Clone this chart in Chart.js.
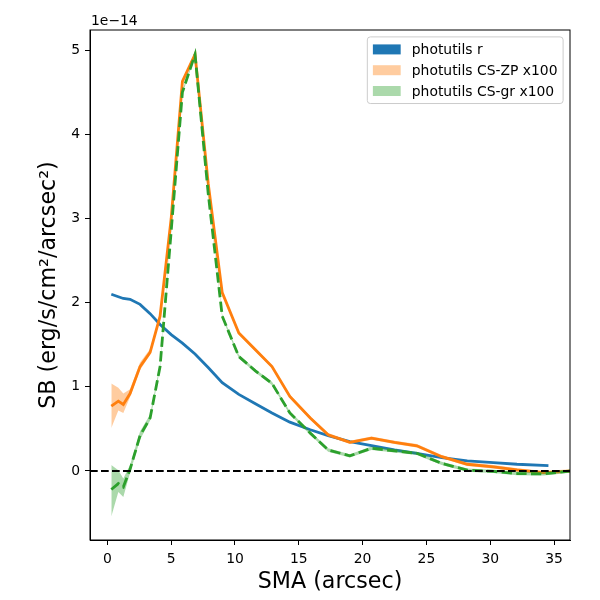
<!DOCTYPE html>
<html>
<head>
<meta charset="utf-8">
<script src="https://cdn.jsdelivr.net/npm/chart.js@4.4.1/dist/chart.umd.min.js"></script>
<style>
body { margin:0; background:#fff; }
</style>
</head>
<body>
<canvas id="myChart" width="600" height="600"></canvas>
<script>
// values are in units of 1e-14 erg/s/cm2/arcsec2
var smaR = [0.31, 0.86, 1.25, 1.78, 2.56, 3.35, 4.13, 5.0, 5.88, 6.87, 7.9, 9.0, 10.3, 11.6, 12.9, 14.3, 15.9, 17.3, 19.0, 20.7, 22.5, 24.25, 26.2, 28.2, 30.25, 32.1, 34.56];
var sbR = [2.10, 2.07, 2.05, 2.04, 1.98, 1.87, 1.74, 1.62, 1.52, 1.39, 1.23, 1.05, 0.91, 0.80, 0.69, 0.58, 0.49, 0.42, 0.35, 0.30, 0.25, 0.21, 0.16, 0.12, 0.10, 0.08, 0.063];

var smaCS = [0.31, 0.86, 1.25, 1.78, 2.56, 3.35, 4.13, 5.0, 5.88, 6.87, 7.9, 9.0, 10.3, 11.6, 12.9, 14.3, 15.9, 17.3, 19.0, 20.7, 22.5, 24.25, 26.2, 28.2, 30.25, 32.1, 34.2, 36.3];
var sbZP = [0.77, 0.83, 0.79, 0.92, 1.24, 1.41, 1.84, 3.0, 4.63, 4.95, 3.42, 2.12, 1.64, 1.44, 1.24, 0.885, 0.63, 0.43, 0.34, 0.39, 0.34, 0.30, 0.17, 0.08, 0.05, 0.012, -0.02, 0.0];
var sbZPlo = [0.51, 0.72, 0.69, 0.88, 1.20, 1.38, 1.82, 2.98, 4.61, 4.93, 3.40, 2.10, 1.62, 1.42, 1.22, 0.865, 0.61, 0.41, 0.32, 0.37, 0.32, 0.28, 0.15, 0.06, 0.03, -0.008, -0.04, -0.02];
var sbZPhi = [1.04, 0.99, 0.92, 0.97, 1.29, 1.45, 1.87, 3.02, 4.65, 4.97, 3.44, 2.14, 1.66, 1.46, 1.26, 0.905, 0.65, 0.45, 0.36, 0.41, 0.36, 0.32, 0.19, 0.10, 0.07, 0.032, 0.0, 0.02];
var sbGR = [-0.22, -0.15, -0.19, 0.02, 0.42, 0.63, 1.24, 2.85, 4.50, 4.95, 3.30, 1.84, 1.36, 1.19, 1.04, 0.69, 0.45, 0.25, 0.18, 0.27, 0.24, 0.21, 0.09, 0.01, -0.005, -0.03, -0.035, 0.0];
var sbGRlo = [-0.54, -0.25, -0.31, -0.02, 0.37, 0.60, 1.22, 2.83, 4.48, 4.93, 3.28, 1.82, 1.34, 1.17, 1.02, 0.67, 0.43, 0.23, 0.16, 0.25, 0.22, 0.19, 0.07, -0.01, -0.025, -0.05, -0.055, -0.02];
var sbGRhi = [0.07, 0.01, -0.09, 0.07, 0.47, 0.67, 1.27, 2.87, 4.52, 4.97, 3.32, 1.86, 1.38, 1.21, 1.06, 0.71, 0.47, 0.27, 0.20, 0.29, 0.26, 0.23, 0.11, 0.03, 0.015, -0.01, -0.015, 0.02];

var xMin = -1.36, xMax = 36.25;
var yMin = -0.82, yMax = 5.24;
var zeroX = [xMin, xMax];
var zeroY = [0, 0];

function pts(xs, ys) {
    var out = [];
    for (var i = 0; i < xs.length; i++) out.push({x: xs[i], y: ys[i]});
    return out;
}

Chart.defaults.font.family = "'DejaVu Sans', sans-serif";
Chart.defaults.color = '#000';

// axes frame, offset text and legend box like matplotlib
var extras = {
    id: 'extras',
    afterDraw: function(chart) {
        var ctx = chart.ctx, a = chart.chartArea;
        ctx.save();
        ctx.strokeStyle = '#000';
        ctx.lineWidth = 1;
        ctx.strokeRect(a.left, a.top, a.right - a.left, a.bottom - a.top);

        ctx.font = "13.9px 'DejaVu Sans'";
        ctx.fillStyle = '#000';
        ctx.textBaseline = 'middle';
        ctx.textAlign = 'left';
        ctx.fillText('1e\u221214', a.left + 1, 21);

        // legend
        var items = chart.data.datasets.filter(function(d) { return d.legendColor; });
        var fs = 13.9, pad = 5.56, hl = 27.8, tp = 11.1, sp = 6.9;
        var tw = 0;
        items.forEach(function(d) { tw = Math.max(tw, ctx.measureText(d.label).width); });
        var w = pad + hl + tp + tw + pad;
        var h = pad * 2 + items.length * fs + (items.length - 1) * sp;
        var bx = a.right - 6.9 - w, by = a.top + 6.9;
        ctx.beginPath();
        ctx.roundRect(bx, by, w, h, 3);
        ctx.fillStyle = 'rgba(255,255,255,0.8)';
        ctx.fill();
        ctx.strokeStyle = '#cccccc';
        ctx.stroke();
        items.forEach(function(d, i) {
            var cy = by + pad + fs / 2 + i * (fs + sp);
            ctx.fillStyle = d.legendColor;
            ctx.fillRect(bx + pad, cy - 5, hl, 10);
            ctx.fillStyle = '#000';
            ctx.fillText(d.label, bx + pad + hl + tp, cy + 1);
        });
        ctx.restore();
    }
};

var ctx = document.getElementById('myChart').getContext('2d');
var myChart = new Chart(ctx, {
    type: 'line',
    data: {
        datasets: [
            {
                label: 'photutils r', legendColor: '#1f77b4',
                data: pts(smaR, sbR), borderColor: '#1f77b4', borderWidth: 2.8,
                pointRadius: 0, fill: false, order: 5
            },
            {
                data: pts(smaCS, sbZPhi), borderWidth: 0, pointRadius: 0, fill: false, order: 4
            },
            {
                label: 'photutils CS-ZP x100', legendColor: 'rgba(255,127,14,0.4)',
                data: pts(smaCS, sbZPlo), borderWidth: 0, pointRadius: 0,
                fill: '-1', backgroundColor: 'rgba(255,127,14,0.4)', order: 4
            },
            {
                data: pts(smaCS, sbZP), borderColor: '#ff7f0e', borderWidth: 2.8,
                pointRadius: 0, fill: false, order: 3
            },
            {
                data: pts(smaCS, sbGRhi), borderWidth: 0, pointRadius: 0, fill: false, order: 2
            },
            {
                label: 'photutils CS-gr x100', legendColor: 'rgba(44,160,44,0.4)',
                data: pts(smaCS, sbGRlo), borderWidth: 0, pointRadius: 0,
                fill: '-1', backgroundColor: 'rgba(44,160,44,0.4)', order: 2
            },
            {
                data: pts(smaCS, sbGR), borderColor: '#2ca02c', borderWidth: 2.8,
                borderDash: [10.3, 4.4], pointRadius: 0, fill: false, order: 1
            },
            {
                data: pts(zeroX, zeroY), borderColor: '#000', borderWidth: 2.1,
                borderDash: [7.7, 3.3], pointRadius: 0, fill: false, order: 0
            }
        ]
    },
    options: {
        responsive: false,
        animation: false,
        events: [],
        layout: { padding: { left: 0, right: 30, top: 30, bottom: 0 } },
        plugins: {
            legend: { display: false },
            tooltip: { enabled: false }
        },
        scales: {
            x: {
                type: 'linear', min: xMin, max: xMax,
                afterFit: function(s) { s.height = 60; },
                ticks: { stepSize: 5, includeBounds: false, padding: 6, font: { size: 13.9 }, color: '#000', maxRotation: 0 },
                grid: { drawOnChartArea: false, tickLength: 5, color: '#000', tickColor: '#000' },
                border: { color: '#000', width: 1 },
                title: { display: true, text: 'SMA (arcsec)', font: { size: 22.2 }, color: '#000', padding: { top: 0, bottom: 4 } }
            },
            y: {
                type: 'linear', min: yMin, max: yMax,
                afterFit: function(s) { s.width = 90; },
                ticks: { stepSize: 1, includeBounds: false, padding: 5, font: { size: 13.9 }, color: '#000' },
                grid: { drawOnChartArea: false, tickLength: 5, color: '#000', tickColor: '#000' },
                border: { color: '#000', width: 1 },
                title: { display: true, text: 'SB (erg/s/cm\u00b2/arcsec\u00b2)', font: { size: 22.2 }, color: '#000', padding: { top: 36, bottom: 0 } }
            }
        }
    },
    plugins: [extras]
});
</script>
</body>
</html>
